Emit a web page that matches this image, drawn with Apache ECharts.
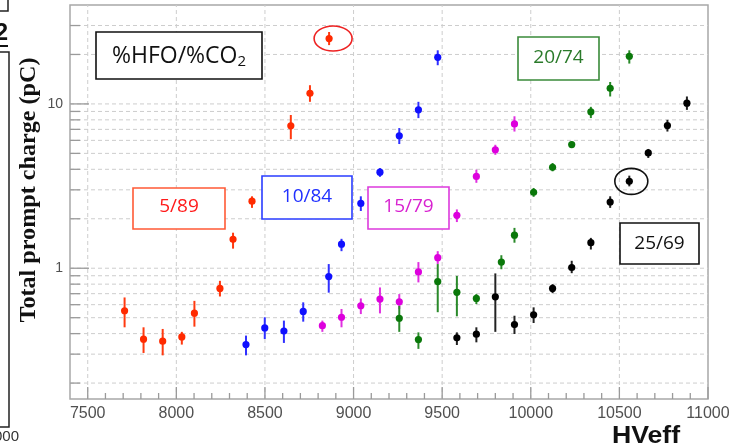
<!DOCTYPE html>
<html>
<head>
<meta charset="utf-8">
<script src="https://cdn.jsdelivr.net/npm/echarts@6/dist/echarts.min.js"></script>
<style>
  html, body { margin: 0; padding: 0; background: #fff; }
  #chart { width: 737px; height: 447px; }
</style>
</head>
<body>
<div id="chart"></div>
<script>
// Total prompt charge vs effective HV for five HFO/CO2 gas mixtures

// 5/89
const hv_5_89  = [7708, 7815, 7923, 8031, 8102, 8246, 8320, 8427, 8646, 8754, 8862];
const q_5_89   = [0.551, 0.370, 0.360, 0.382, 0.533, 0.753, 1.50, 2.56, 7.36, 11.6, 25.0];
const lo_5_89  = [0.437, 0.305, 0.295, 0.343, 0.441, 0.673, 1.316, 2.33, 6.10, 10.3, 22.8];
const hi_5_89  = [0.664, 0.437, 0.427, 0.410, 0.633, 0.838, 1.645, 2.74, 8.56, 13.0, 27.4];

// 10/84
const hv_10_84 = [8393, 8499, 8607, 8716, 8860, 8932, 9041, 9149, 9258, 9366, 9475];
const q_10_84  = [0.343, 0.433, 0.415, 0.546, 0.890, 1.40, 2.48, 3.84, 6.40, 9.20, 19.2];
const lo_10_84 = [0.295, 0.371, 0.351, 0.473, 0.710, 1.27, 2.23, 3.60, 5.70, 8.20, 17.2];
const hi_10_84 = [0.389, 0.503, 0.480, 0.620, 1.060, 1.51, 2.74, 4.07, 7.13, 10.3, 21.2];

// 15/79
const hv_15_79 = [8824, 8932, 9041, 9149, 9258, 9366, 9475, 9583, 9693, 9800, 9908];
const q_15_79  = [0.447, 0.503, 0.591, 0.649, 0.625, 0.950, 1.16, 2.10, 3.62, 5.26, 7.56];
const lo_15_79 = [0.410, 0.437, 0.526, 0.531, 0.564, 0.820, 1.06, 1.91, 3.31, 4.90, 6.79];
const hi_15_79 = [0.480, 0.565, 0.655, 0.764, 0.696, 1.090, 1.27, 2.28, 3.98, 5.64, 8.41];

// 20/74
const hv_20_74 = [9258, 9366, 9475, 9583, 9693, 9834, 9908, 10016, 10123, 10231, 10339, 10448, 10556];
const q_20_74  = [0.496, 0.368, 0.830, 0.713, 0.655, 1.09, 1.59, 2.90, 4.11, 5.66, 8.95, 12.45, 19.5];
const lo_20_74 = [0.410, 0.323, 0.540, 0.510, 0.605, 0.986, 1.43, 2.72, 3.89, 5.39, 8.20, 11.1, 17.6];
const hi_20_74 = [0.590, 0.407, 1.060, 0.898, 0.696, 1.20, 1.76, 3.08, 4.37, 5.90, 9.60, 13.6, 21.2];

// 25/69
const hv_25_69 = [9583, 9693, 9800, 9908, 10016, 10123, 10231, 10339, 10448, 10556, 10663, 10771, 10881];
const q_25_69  = [0.377, 0.397, 0.670, 0.454, 0.521, 0.753, 1.01, 1.43, 2.53, 3.38, 5.03, 7.39, 10.1];
const lo_25_69 = [0.341, 0.354, 0.410, 0.398, 0.464, 0.705, 0.933, 1.30, 2.33, 3.15, 4.69, 6.79, 9.20];
const hi_25_69 = [0.407, 0.437, 0.930, 0.514, 0.578, 0.800, 1.11, 1.53, 2.74, 3.66, 5.32, 8.00, 11.1];

// circled points
const circledHV = [8862, 10556];
const circledQ  = [25.0, 3.38];

// axes
const xTickLabels = [7500, 8000, 8500, 9000, 9500, 10000, 10500, 11000];
const xMinorTicks = [7600, 7700, 7800, 7900, 8100, 8200, 8300, 8400, 8600, 8700, 8800, 8900,
                     9100, 9200, 9300, 9400, 9600, 9700, 9800, 9900, 10100, 10200, 10300, 10400,
                     10600, 10700, 10800, 10900];
const yTickLabels = [1, 10];
const yMinorTicks = [0.2, 0.3, 0.4, 0.5, 0.6, 0.7, 0.8, 0.9, 2, 3, 4, 5, 6, 7, 8, 9, 20, 30];
const xGridLines  = [7500, 8000, 8500, 9000, 9500, 10000, 10500];

const X_MIN = 7400, X_MAX = 11000;
const Y_MIN = 0.16, Y_MAX = 40;

function pointsWithErrors(name, hv, q, lo, hi, dotColor, barColor) {
  return {
    type: 'custom',
    name: name,
    coordinateSystem: 'cartesian2d',
    animation: false,
    z: 5,
    encode: { x: 0, y: 1 },
    data: hv.map((x, i) => [x, q[i], lo[i], hi[i]]),
    renderItem: function (params, api) {
      const x = api.value(0);
      const c = api.coord([x, api.value(1)]);
      const a = api.coord([x, api.value(2)]);
      const b = api.coord([x, api.value(3)]);
      return {
        type: 'group',
        children: [
          { type: 'line', shape: { x1: a[0], y1: a[1], x2: b[0], y2: b[1] },
            style: { stroke: barColor, lineWidth: 2 } },
          { type: 'circle', shape: { cx: c[0], cy: c[1], r: 3.6 },
            style: { fill: dotColor } }
        ]
      };
    }
  };
}

// dashed grid
const gridData = [];
xGridLines.forEach(v => gridData.push([v, Y_MIN, 1]));
yTickLabels.concat(yMinorTicks).forEach(v => gridData.push([X_MIN, v, 0]));

// inward tick marks: [x, y, dx, dy]
const tickData = [];
xTickLabels.forEach(v => tickData.push([v, Y_MIN, 0, -12]));
xMinorTicks.forEach(v => tickData.push([v, Y_MIN, 0, -6]));
yTickLabels.forEach(v => tickData.push([X_MIN, v, 19, 0]));
yMinorTicks.forEach(v => tickData.push([X_MIN, v, 10, 0]));

const circleStyle = [
  { color: '#ee2222', dx: 4, rx: 19, ry: 12.5 },
  { color: '#111111', dx: 2, rx: 16.5, ry: 13 }
];

function labelBox(x, y, w, h, text, textColor, borderColor, fontSize, ty) {
  return {
    type: 'group',
    children: [
      { type: 'rect', shape: { x: x, y: y, width: w, height: h },
        style: { fill: '#fff', stroke: borderColor, lineWidth: 1.6 }, z: 10 },
      { type: 'text', x: x + w / 2, y: ty, z: 11,
        style: { text: text, fill: textColor, fontSize: fontSize, fontFamily: 'Open Sans',
                 align: 'center', verticalAlign: 'middle' } }
    ]
  };
}

const chart = echarts.init(document.getElementById('chart'), null, { renderer: 'canvas' });

chart.setOption({
  backgroundColor: '#ffffff',
  animation: false,
  grid: {
    left: 70, right: 29, top: 5, bottom: 48,
    show: true, borderColor: '#a8a8a8', borderWidth: 1.5, backgroundColor: 'transparent'
  },
  xAxis: {
    type: 'value', min: X_MIN, max: X_MAX,
    axisLine: { show: false }, axisTick: { show: false }, splitLine: { show: false },
    axisLabel: {
      customValues: xTickLabels, margin: 7,
      formatter: v => String(v),
      fontFamily: 'Liberation Sans', fontSize: 16, color: '#505050'
    }
  },
  yAxis: {
    type: 'log', logBase: 10, min: Y_MIN, max: Y_MAX,
    axisLine: { show: false }, axisTick: { show: false }, splitLine: { show: false },
    axisLabel: {
      customValues: yTickLabels, margin: 7,
      formatter: v => String(v),
      fontFamily: 'Liberation Sans', fontSize: 14, color: '#505050'
    }
  },
  series: [
    {
      type: 'custom', name: 'grid', coordinateSystem: 'cartesian2d', animation: false, silent: true, z: 1,
      encode: { x: 0, y: 1 },
      data: gridData,
      renderItem: function (params, api) {
        const vertical = api.value(2) === 1;
        const p1 = vertical ? api.coord([api.value(0), Y_MIN]) : api.coord([X_MIN, api.value(1)]);
        const p2 = vertical ? api.coord([api.value(0), Y_MAX]) : api.coord([X_MAX, api.value(1)]);
        return { type: 'line', shape: { x1: p1[0], y1: p1[1], x2: p2[0], y2: p2[1] },
                 style: { stroke: '#cdcdcd', lineWidth: 1, lineDash: [4, 3] } };
      }
    },
    {
      type: 'custom', name: 'ticks', coordinateSystem: 'cartesian2d', animation: false, silent: true, z: 2,
      encode: { x: 0, y: 1 },
      data: tickData,
      renderItem: function (params, api) {
        const p = api.coord([api.value(0), api.value(1)]);
        return { type: 'line',
                 shape: { x1: p[0], y1: p[1], x2: p[0] + api.value(2), y2: p[1] + api.value(3) },
                 style: { stroke: '#9a9a9a', lineWidth: 1.3 } };
      }
    },
    pointsWithErrors('5/89',  hv_5_89,  q_5_89,  lo_5_89,  hi_5_89,  '#ff2a00', '#ff3a10'),
    pointsWithErrors('10/84', hv_10_84, q_10_84, lo_10_84, hi_10_84, '#1010ff', '#3030ff'),
    pointsWithErrors('15/79', hv_15_79, q_15_79, lo_15_79, hi_15_79, '#dd00dd', '#e030e0'),
    pointsWithErrors('20/74', hv_20_74, q_20_74, lo_20_74, hi_20_74, '#0a780a', '#2a8a2a'),
    pointsWithErrors('25/69', hv_25_69, q_25_69, lo_25_69, hi_25_69, '#000000', '#222222'),
    {
      type: 'custom', name: 'circled', coordinateSystem: 'cartesian2d', animation: false, silent: true, z: 6,
      encode: { x: 0, y: 1 },
      data: circledHV.map((x, i) => [x, circledQ[i]]),
      renderItem: function (params, api) {
        const s = circleStyle[params.dataIndex];
        const c = api.coord([api.value(0), api.value(1)]);
        return { type: 'ellipse', shape: { cx: c[0] + s.dx, cy: c[1], rx: s.rx, ry: s.ry },
                 style: { fill: 'none', stroke: s.color, lineWidth: 1.6 } };
      }
    }
  ],
  graphic: [
    // neighbouring panel fragments on the left edge
    { type: 'rect', shape: { x: -10, y: -10, width: 18, height: 21 },
      style: { fill: 'none', stroke: '#222', lineWidth: 1.5 } },
    { type: 'text', x: 8, y: 33,
      style: { text: '2', fontSize: 24, fontWeight: 'bold', fontFamily: 'Liberation Sans',
               fill: '#111', align: 'right', verticalAlign: 'middle' } },
    { type: 'line', shape: { x1: 0, y1: 46, x2: 8, y2: 46 }, style: { stroke: '#111', lineWidth: 2 } },
    { type: 'rect', shape: { x: -10, y: 52, width: 19, height: 375 },
      style: { fill: 'none', stroke: '#222', lineWidth: 1.5 } },
    { type: 'text', x: 19, y: 437,
      style: { text: '9000', fontSize: 15, fontFamily: 'Liberation Sans', fill: '#333',
               align: 'right', verticalAlign: 'middle' } },

    // axis titles
    { type: 'text', x: 29, y: 190, rotation: Math.PI / 2, scaleX: 1.05,
      style: { text: 'Total prompt charge (pC)', fontSize: 23, fontWeight: 'bold',
               fontFamily: 'Liberation Serif', fill: '#111', align: 'center', verticalAlign: 'middle' } },
    { type: 'text', x: 646, y: 437, scaleX: 1.16,
      style: { text: 'HVeff', fontSize: 23, fontWeight: 'bold',
               fontFamily: 'Liberation Sans', fill: '#111', align: 'center', verticalAlign: 'middle' } },

    // mixture labels
    {
      type: 'group',
      children: [
        { type: 'rect', shape: { x: 96, y: 32, width: 166, height: 47 },
          style: { fill: '#fff', stroke: '#111', lineWidth: 1.6 }, z: 10 },
        { type: 'text', x: 179, y: 56, z: 11,
          style: {
            text: '{a|%HFO/%CO}{b|2}', align: 'center', verticalAlign: 'middle',
            rich: {
              a: { fontSize: 23, fontFamily: 'Open Sans', fill: '#111' },
              b: { fontSize: 15, fontFamily: 'Open Sans', fill: '#111', padding: [12, 0, 0, 0] }
            }
          } }
      ]
    },
    labelBox(133, 188, 92, 41, '5/89',  '#ff1a1a', '#ff5a36', 19, 207),
    labelBox(262, 176, 90, 43, '10/84', '#2030ff', '#2a3cff', 19, 197),
    labelBox(368, 187, 81, 42, '15/79', '#d822d0', '#dd3add', 19, 207),
    labelBox(518, 37, 81, 43,  '20/74', '#2a7a2a', '#3a8a3a', 19, 58),
    labelBox(620, 223, 79, 41, '25/69', '#111111', '#111111', 19, 244)
  ]
});
</script>
</body>
</html>
